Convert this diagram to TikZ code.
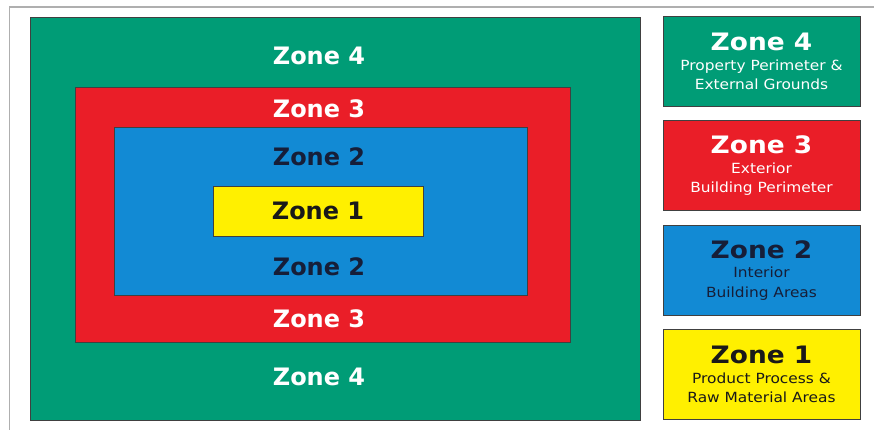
\documentclass[tikz,border=0pt]{standalone}
\usepackage{fontspec}
\setmainfont{DejaVu Sans}
\newfontfamily\notefont{DejaVu Sans}[FakeStretch=1.1]
\usetikzlibrary{positioning}
\definecolor{zonegreen}{RGB}{0,156,118}
\definecolor{zonered}{RGB}{234,30,40}
\definecolor{zoneblue}{RGB}{18,138,212}
\definecolor{zoneyellow}{RGB}{255,240,0}
\definecolor{zoneink}{RGB}{22,30,56}
\definecolor{frameline}{RGB}{175,175,175}
\newcommand{\zonetitle}{\fontsize{24}{26}\selectfont\bfseries}
\begin{document}
\begin{tikzpicture}[
  x=1pt, y=-1pt,
  zone/.style={rectangle,draw=black!75,line width=0.8pt,inner sep=0pt},
  zonetag/.style={font=\zonetitle,inner sep=0pt},
  key/.style={zone,minimum width=197pt,minimum height=90pt,align=center,
    font=\notefont\fontsize{14}{19.5}\selectfont}
]
\useasboundingbox (0,0) rectangle (874,430);
\draw[frameline,line width=1.5pt] (9.5,430) -- (9.5,7) -- (874,7);

% nested zones
\node[zone,fill=zonegreen,minimum width=610pt,minimum height=403pt] (zone4) at (335,218.5) {};
\node[zone,fill=zonered,minimum width=495pt,minimum height=255pt] (zone3) at (322.5,214.5) {};
\node[zone,fill=zoneblue,minimum width=413pt,minimum height=168pt] (zone2) at (320.5,211) {};
\node[zone,fill=zoneyellow,minimum width=210pt,minimum height=50pt] (zone1) at (318,211) {};

\node[zonetag,white] (tag4a) at (319,56) {Zone 4};
\node[zonetag,white] (tag3a) at (319,109) {Zone 3};
\node[zonetag,zoneink] (tag2a) at (319,157) {Zone 2};
\node[zonetag,black!90] (tag1) at (zone1) {Zone 1};
\node[zonetag,zoneink] (tag2b) at (319,267) {Zone 2};
\node[zonetag,white] (tag3b) at (319,319) {Zone 3};
\node[zonetag,white] (tag4b) at (319,377) {Zone 4};

% key
\node[key,fill=zonegreen,text=white] (key4) at (761.5,61.5)
  {{\zonetitle Zone 4}\\Property Perimeter \&\\External Grounds};
\node[key,fill=zonered,text=white,below=13.5pt of key4] (key3)
  {{\zonetitle Zone 3}\\Exterior\\Building Perimeter};
\node[key,fill=zoneblue,text=zoneink,below=13.5pt of key3] (key2)
  {{\zonetitle Zone 2}\\Interior\\Building Areas};
\node[key,fill=zoneyellow,text=black!90,below=13.5pt of key2] (key1)
  {{\zonetitle Zone 1}\\Product Process \&\\Raw Material Areas};
\end{tikzpicture}
\end{document}
